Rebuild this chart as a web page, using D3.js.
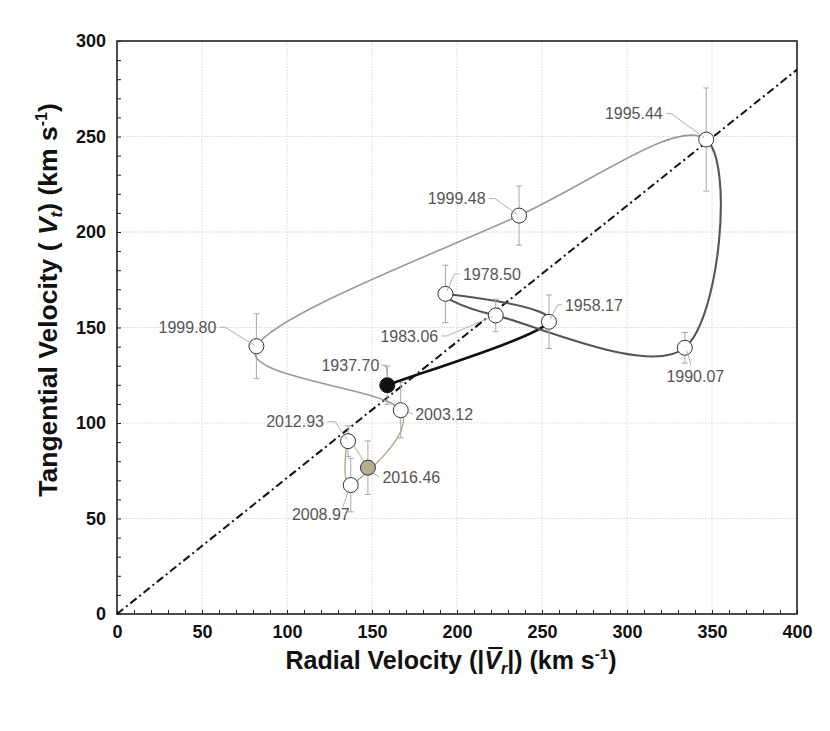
<!DOCTYPE html>
<html>
<head>
<meta charset="utf-8">
<script src="https://cdn.jsdelivr.net/npm/d3@7"></script>
<style>
  body { margin: 0; background: #fff; }
  text { font-family: "Liberation Sans", Arial, Helvetica, sans-serif; }
</style>
</head>
<body>
<div id="chart"></div>
<script>
// epochs and velocities (km/s)
const epochs = ["1937.70", "1958.17", "1978.50", "1983.06", "1990.07", "1995.44",
                "1999.48", "1999.80", "2003.12", "2008.97", "2012.93", "2016.46"];
const radialVelocity = [159, 254.1, 193.2, 222.8, 334, 346.6, 236.5, 82, 166.9, 137.5, 135.9, 147.6];
const tangentialVelocity = [119.8, 153, 167.6, 156.3, 139.4, 248.4, 208.6, 140.2, 106.7, 67.5, 90.5, 76.6];
const tangentialError = [10, 14, 15, 8.5, 8, 27, 15.5, 17, 14.5, 14, 8, 14];

const xTicks = d3.range(0, 401, 50);
const yTicks = d3.range(0, 301, 50);
const minorStep = 10;

// dash-dot reference line through the origin
const dividerX = [0, 400];
const dividerY = [0, 285];

const width = 830;
const height = 731;
const margin = {top: 41, right: 33, bottom: 117, left: 117};

const svg = d3.select("#chart")
    .append("svg")
    .attr("width", width)
    .attr("height", height);

const x = d3.scaleLinear().domain([0, 400]).range([margin.left, width - margin.right]);
const y = d3.scaleLinear().domain([0, 300]).range([height - margin.bottom, margin.top]);

// grid
svg.append("g")
    .selectAll("line")
    .data(xTicks.slice(1, -1))
    .join("line")
    .attr("x1", d => x(d)).attr("x2", d => x(d))
    .attr("y1", y(0)).attr("y2", y(300))
    .attr("stroke", "#d6d6d6")
    .attr("stroke-dasharray", "1.5,1.5");

svg.append("g")
    .selectAll("line")
    .data(yTicks.slice(1, -1))
    .join("line")
    .attr("x1", x(0)).attr("x2", x(400))
    .attr("y1", d => y(d)).attr("y2", d => y(d))
    .attr("stroke", "#d6d6d6")
    .attr("stroke-dasharray", "1.5,1.5");

// axes: minor ticks inside, labels every 50
const xAxis = d3.axisBottom(x)
    .tickValues(d3.range(0, 401, minorStep))
    .tickSize(-4)
    .tickPadding(11)
    .tickFormat(d => d % 50 === 0 ? d : "");

const yAxis = d3.axisLeft(y)
    .tickValues(d3.range(0, 301, minorStep))
    .tickSize(-4)
    .tickPadding(11)
    .tickFormat(d => d % 50 === 0 ? d : "");

function styleAxis(g) {
    g.select(".domain").remove();
    g.attr("color", "#222");
    g.selectAll("line").attr("stroke-width", 1);
    g.selectAll("text")
        .attr("font-size", 18)
        .attr("font-weight", "bold")
        .attr("fill", "#111");
}

svg.append("g")
    .attr("transform", `translate(0,${y(0)})`)
    .call(xAxis)
    .call(styleAxis);

svg.append("g")
    .attr("transform", `translate(${x(0)},0)`)
    .call(yAxis)
    .call(styleAxis);

// frame
svg.append("rect")
    .attr("x", x(0))
    .attr("y", y(300))
    .attr("width", x(400) - x(0))
    .attr("height", y(0) - y(300))
    .attr("fill", "none")
    .attr("stroke", "#222")
    .attr("stroke-width", 1.6);

// dash-dot line
svg.append("path")
    .datum(d3.zip(dividerX, dividerY))
    .attr("d", d3.line().x(d => x(d[0])).y(d => y(d[1])))
    .attr("fill", "none")
    .attr("stroke", "#111")
    .attr("stroke-width", 2)
    .attr("stroke-dasharray", "8,3.5,2,3.5");

// points in pixel space
const pts = epochs.map((e, i) => ({
    epoch: e,
    px: x(radialVelocity[i]),
    py: y(tangentialVelocity[i]),
    top: y(tangentialVelocity[i] + tangentialError[i]),
    bottom: y(tangentialVelocity[i] - tangentialError[i])
}));

// colour and width of each trajectory piece by the year it starts
const segColor = d3.scaleThreshold().domain([1950, 1995, 2003, 2010]).range(["#111", "#555", "#9a9a9a", "#aaa47a", "#c4c0a4"]);
const segWidth = d3.scaleThreshold().domain([1950, 1995, 2003, 2010]).range([2.6, 2.1, 1.6, 1.3, 1.1]);

// catmull-rom pieces, one per interval
const segs = d3.range(pts.length - 1).map(i => {
    const p0 = pts[Math.max(i - 1, 0)];
    const p1 = pts[i];
    const p2 = pts[i + 1];
    const p3 = pts[Math.min(i + 2, pts.length - 1)];
    const p = d3.path();
    p.moveTo(p1.px, p1.py);
    p.bezierCurveTo(
        p1.px + (p2.px - p0.px) / 6, p1.py + (p2.py - p0.py) / 6,
        p2.px - (p3.px - p1.px) / 6, p2.py - (p3.py - p1.py) / 6,
        p2.px, p2.py);
    return {d: p.toString(), year: +p1.epoch};
});

svg.append("g")
    .selectAll("path")
    .data(segs)
    .join("path")
    .attr("d", d => d.d)
    .attr("fill", "none")
    .attr("stroke", d => segColor(d.year))
    .attr("stroke-width", d => segWidth(d.year))
    .attr("stroke-linecap", "round");

// error bars
const eb = svg.append("g")
    .attr("stroke", "#a8a8a8")
    .attr("stroke-width", 1);

eb.selectAll(".bar")
    .data(pts)
    .join("line")
    .attr("x1", d => d.px).attr("x2", d => d.px)
    .attr("y1", d => d.top).attr("y2", d => d.bottom);

eb.selectAll(".capT")
    .data(pts)
    .join("line")
    .attr("x1", d => d.px - 3).attr("x2", d => d.px + 3)
    .attr("y1", d => d.top).attr("y2", d => d.top);

eb.selectAll(".capB")
    .data(pts)
    .join("line")
    .attr("x1", d => d.px - 3).attr("x2", d => d.px + 3)
    .attr("y1", d => d.bottom).attr("y2", d => d.bottom);

// markers
const fills = {"1937.70": "#111", "2016.46": "#b2ae8e"};

svg.append("g")
    .selectAll("circle")
    .data(pts)
    .join("circle")
    .attr("cx", d => d.px)
    .attr("cy", d => d.py)
    .attr("r", 7.5)
    .attr("fill", d => fills[d.epoch] || "#fff")
    .attr("stroke", d => d.epoch === "1937.70" ? "#111" : "#333")
    .attr("stroke-width", 1);

// label placement (pixel offsets from the marker) and leader polylines
const labelLayout = {
    "1937.70": {dx: -8, dy: -20, anchor: "end", leader: [[-6, -20], [-1, -20], [0, -7]]},
    "1958.17": {dx: 16, dy: -17, anchor: "start", leader: [[13, -17], [9, -17], [1, -3]]},
    "1978.50": {dx: 17.5, dy: -20, anchor: "start", leader: [[14, -20], [9, -20], [1.5, -3]]},
    "1983.06": {dx: -57.5, dy: 20.5, anchor: "end", leader: [[-54, 20.5], [-49, 20.5], [-3, 1]]},
    "1990.07": {dx: 10.5, dy: 28.5, anchor: "middle", leader: [[2, 3], [6, 17]]},
    "1995.44": {dx: -43.5, dy: -26, anchor: "end", leader: [[-40, -26], [-35, -26], [-2, -2]]},
    "1999.48": {dx: -33.5, dy: -17, anchor: "end", leader: [[-30, -17], [-24, -17], [-2, -1]]},
    "1999.80": {dx: -40, dy: -19, anchor: "end", leader: [[-36.5, -19], [-31.5, -19], [-2, -1]]},
    "2003.12": {dx: 14.5, dy: 4, anchor: "start", leader: [[6, 1.5], [12, 4]]},
    "2012.93": {dx: -24, dy: -19.5, anchor: "end", leader: [[-20.5, -19.5], [-13, -19.5], [-1, -2]]},
    "2016.46": {dx: 14.5, dy: 10, anchor: "start", leader: [[5, 5], [11.5, 9.5]]},
    "2008.97": {dx: -1, dy: 29, anchor: "end", leader: [[-2, 5], [-8, 22]]}
};

svg.append("g")
    .selectAll("polyline")
    .data(pts)
    .join("polyline")
    .attr("points", d => labelLayout[d.epoch].leader.map(o => [d.px + o[0], d.py + o[1]].join(",")).join(" "))
    .attr("fill", "none")
    .attr("stroke", "#9c9c9c")
    .attr("stroke-width", 0.8);

svg.append("g")
    .selectAll("text")
    .data(pts)
    .join("text")
    .attr("x", d => d.px + labelLayout[d.epoch].dx)
    .attr("y", d => d.py + labelLayout[d.epoch].dy)
    .attr("dy", "0.36em")
    .attr("text-anchor", d => labelLayout[d.epoch].anchor)
    .attr("font-size", 16)
    .attr("fill", "#555")
    .text(d => d.epoch);

// x title
const xt = svg.append("text")
    .attr("x", 451)
    .attr("y", 669)
    .attr("text-anchor", "middle")
    .attr("font-size", 25)
    .attr("font-weight", "bold")
    .attr("fill", "#111");
xt.append("tspan").text("Radial Velocity (|");
xt.append("tspan").attr("font-style", "italic").text("V");
xt.append("tspan").attr("font-style", "italic").attr("font-size", 16).attr("dy", 5).text("r");
xt.append("tspan").attr("dy", -5).text("|) (km s");
xt.append("tspan").attr("font-size", 15).attr("dy", -10).text("-1");
xt.append("tspan").attr("dy", 10).text(")");

// bar over the V
const vIdx = "Radial Velocity (|".length;
const ext = xt.node().getExtentOfChar(vIdx);
svg.append("line")
    .attr("x1", ext.x + 4)
    .attr("x2", ext.x + ext.width + 1.5)
    .attr("y1", ext.y + 2)
    .attr("y2", ext.y + 2)
    .attr("stroke", "#111")
    .attr("stroke-width", 2);

// y title
const yt = svg.append("text")
    .attr("transform", "translate(57,300) rotate(-90)")
    .attr("text-anchor", "middle")
    .attr("font-size", 26.5)
    .attr("font-weight", "bold")
    .attr("fill", "#111");
yt.append("tspan").text("Tangential Velocity ( ");
yt.append("tspan").attr("font-style", "italic").text("V");
yt.append("tspan").attr("font-style", "italic").attr("font-size", 17).attr("dy", 5).text("t");
yt.append("tspan").attr("dy", -5).text(") (km s");
yt.append("tspan").attr("font-size", 16).attr("dy", -10).text("-1");
yt.append("tspan").attr("dy", 10).text(")");
</script>
</body>
</html>
